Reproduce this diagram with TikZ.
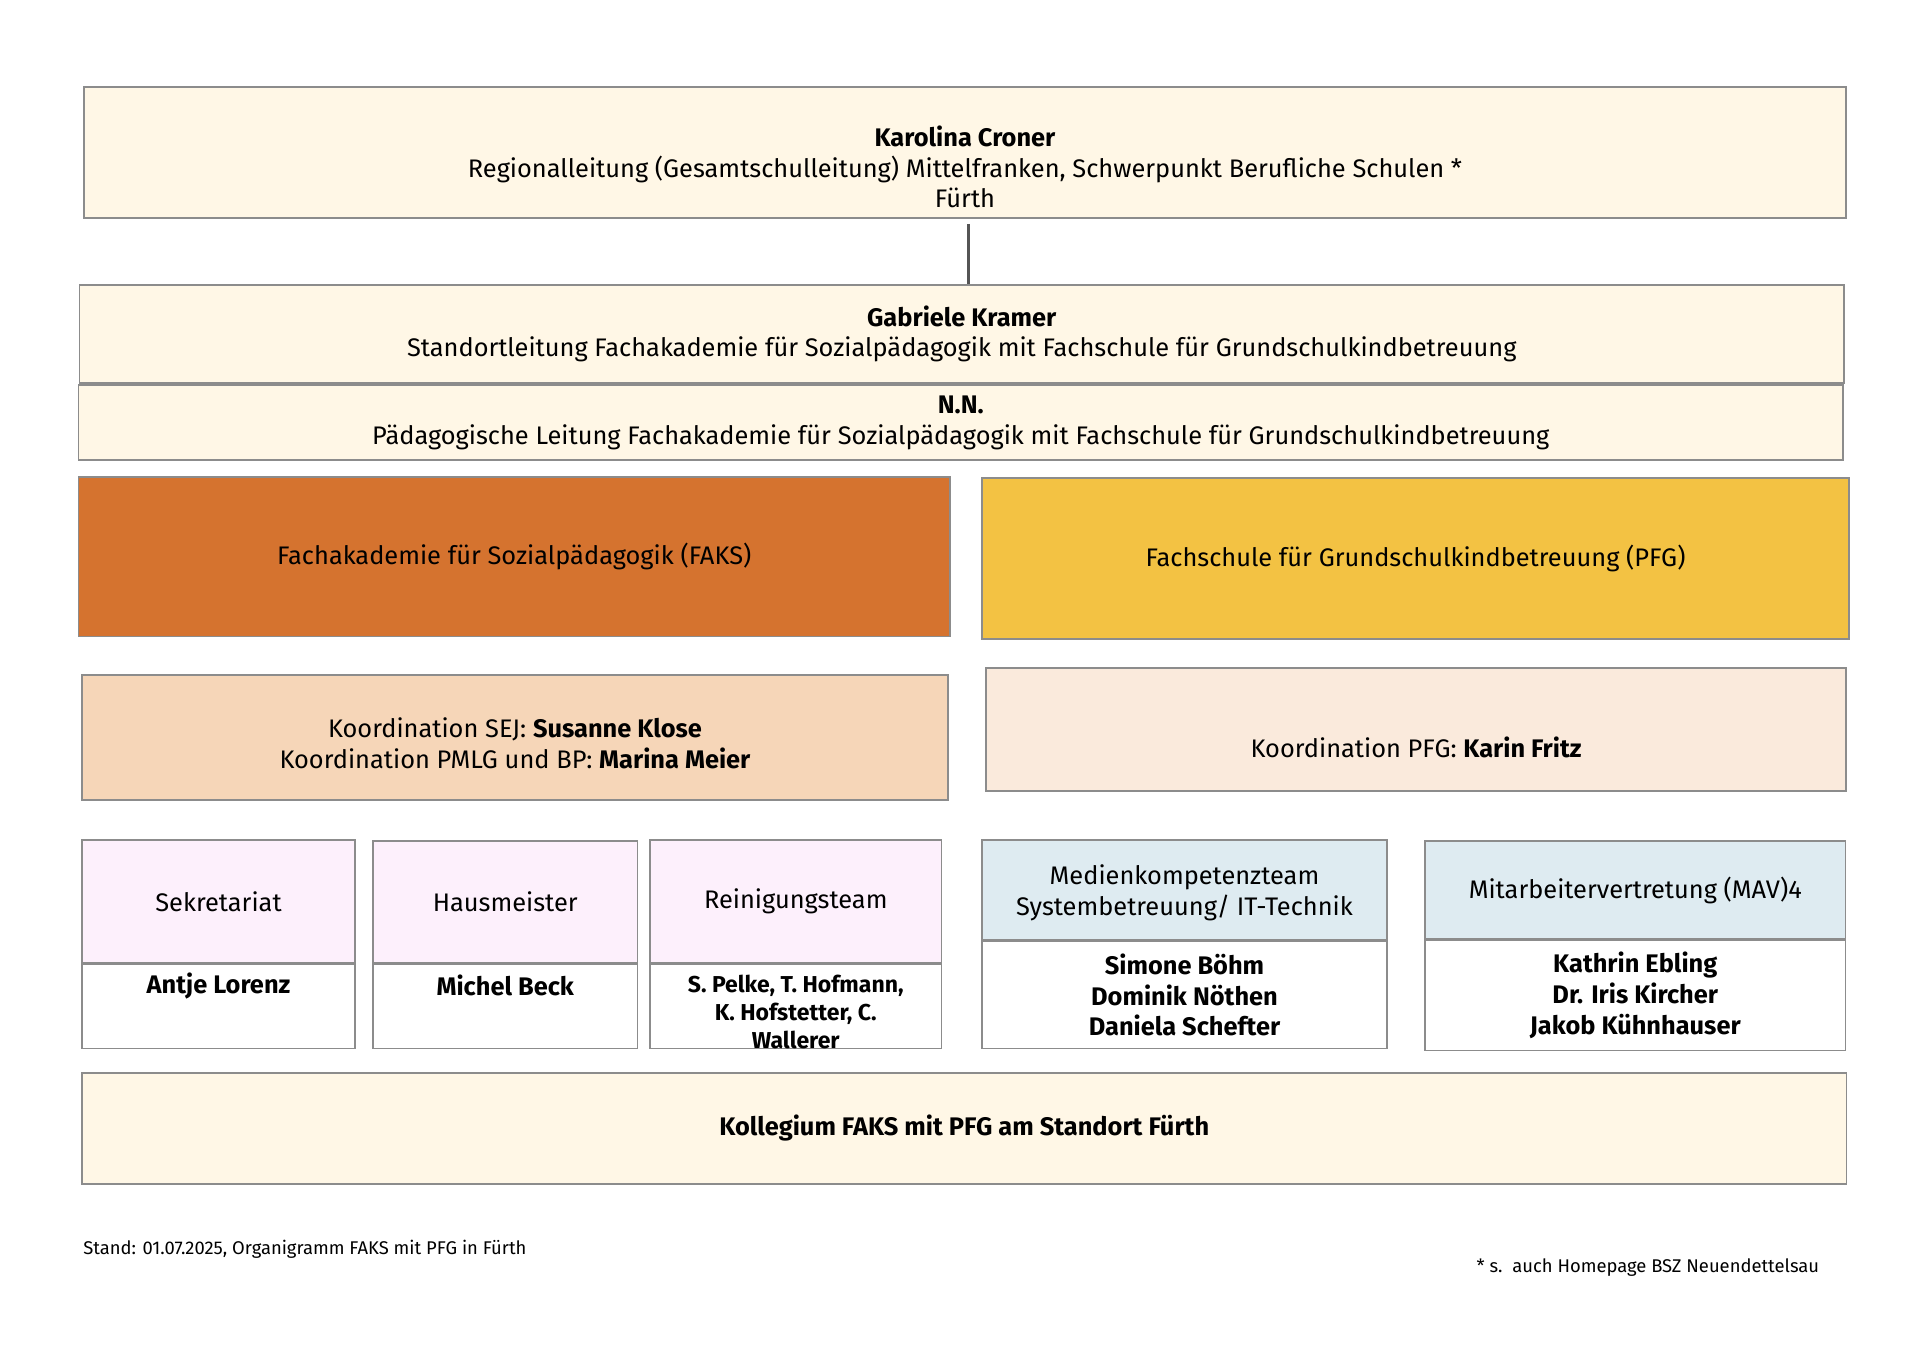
\documentclass[tikz,border=0pt]{standalone}
\usepackage{fontspec}
\setmainfont{Fira Sans}
\usetikzlibrary{positioning}
\definecolor{cream}{HTML}{FFF7E6}
\definecolor{faksorange}{HTML}{D5732F}
\definecolor{pfgyellow}{HTML}{F3C243}
\definecolor{sejpeach}{HTML}{F6D6B8}
\definecolor{pfgpeach}{HTML}{FAEADC}
\definecolor{staffpink}{HTML}{FDF0FC}
\definecolor{teamblue}{HTML}{DEEBF1}
\definecolor{boxgray}{HTML}{8C8C8C}
\definecolor{linkgray}{HTML}{555555}

\begin{document}
\begin{tikzpicture}[x=0.5pt,y=-0.5pt,
		org box/.style={draw=boxgray,line width=0.75pt,inner sep=0pt,align=center,font=\fontsize{12.7}{15.4}\selectfont},
		plain text/.style={inner sep=0pt,align=center,font=\fontsize{12.7}{15.4}\selectfont},
		name text/.style={inner sep=0pt,align=center,font=\fontsize{12.7}{15.4}\selectfont\bfseries},
		foot text/.style={inner sep=0pt,font=\fontsize{9.2}{11}\selectfont}]
	\useasboundingbox (0,0) rectangle (1920,1354);
	% leitung
	\node[org box,fill=cream,minimum width=881pt,minimum height=65.5pt] (croner) at (965,152.5) {};
	\node[plain text] (croner text) at (965,167) {\textbf{Karolina Croner}\\Regionalleitung (Gesamtschulleitung) Mittelfranken, Schwerpunkt Berufliche Schulen *\\Fürth};
	\node[org box,fill=cream,minimum width=882.25pt,minimum height=49pt] (kramer) at (961.75,334) {\textbf{Gabriele Kramer}\\Standortleitung Fachakademie für Sozialpädagogik mit Fachschule für Grundschulkindbetreuung};
	\node[org box,fill=cream,minimum width=882.25pt,minimum height=37.5pt] (nn) at (960.75,422.5) {\textbf{N.N.}\\Pädagogische Leitung Fachakademie für Sozialpädagogik mit Fachschule für Grundschulkindbetreuung};
	\draw[linkgray,line width=1.5pt] ([xshift=1.5pt,yshift=-2.5pt]croner.south) -- ([xshift=1.5pt]croner.south |- kramer.north);
	% schularten
	\node[org box,fill=faksorange,minimum width=435.75pt,minimum height=79.75pt] (faks) at (514.25,556.75) {Fachakademie für Sozialpädagogik (FAKS)};
	\node[org box,fill=pfgyellow,minimum width=433.5pt,minimum height=80.5pt] (pfg) at (1415.5,558.5) {Fachschule für Grundschulkindbetreuung (PFG)};
	% koordination
	\node[org box,fill=sejpeach,minimum width=433pt,minimum height=62.5pt] (koord sej) at (515,737.5) {};
	\node[plain text] (koord sej text) at (515,743) {Koordination SEJ: \textbf{Susanne Klose}\\Koordination PMLG und BP: \textbf{Marina Meier}};
	\node[org box,fill=pfgpeach,minimum width=430pt,minimum height=61.5pt] (koord pfg) at (1416,729.5) {};
	\node[plain text] (koord pfg text) at (1416,747) {Koordination PFG: \textbf{Karin Fritz}};
	% verwaltung und teams
	\node[org box,fill=staffpink,minimum width=136.5pt,minimum height=61.5pt] (sekr) at (218.5,901.5) {Sekretariat};
	\node[org box,fill=white,minimum width=136.5pt,minimum height=42pt,below=0pt of sekr] (sekr names) {};
	\node[name text] (lorenz) at (218.5,986) {Antje Lorenz};
	\node[org box,fill=staffpink,minimum width=132.25pt,minimum height=61pt] (haus) at (505.25,902) {Hausmeister};
	\node[org box,fill=white,minimum width=132.25pt,minimum height=42pt,below=0pt of haus] (haus names) {};
	\node[name text] (beck) at (505.25,985) {Michel Beck};
	\node[org box,fill=staffpink,minimum width=145.75pt,minimum height=61.5pt] (rein) at (795.75,901.5) {Reinigungsteam};
	\node[org box,fill=white,minimum width=145.75pt,minimum height=42pt,below=0pt of rein] (rein names) {};
	\node[name text,font=\fontsize{11.5}{13.9}\selectfont\bfseries] (pelke) at (795.75,1012) {S. Pelke, T. Hofmann,\\K. Hofstetter, C.\\Wallerer};
	\node[org box,fill=teamblue,minimum width=202.5pt,minimum height=50pt] (medien) at (1184.5,890) {};
	\node[plain text] (medien text) at (1184.5,893) {Medienkompetenzteam\\Systembetreuung/ IT-Technik};
	\node[org box,fill=white,minimum width=202.5pt,minimum height=53.5pt,below=0pt of medien] (medien names) {\bfseries Simone Böhm\\\bfseries Dominik Nöthen\\\bfseries Daniela Schefter};
	\node[org box,fill=teamblue,minimum width=210.25pt,minimum height=49pt] (mav) at (1635.25,890) {Mitarbeitervertretung (MAV)4};
	\node[org box,fill=white,minimum width=210.25pt,minimum height=55pt,below=0pt of mav] (mav names) {\bfseries Kathrin Ebling\\\bfseries Dr. Iris Kircher\\\bfseries Jakob Kühnhauser};
	% kollegium
	\node[org box,fill=cream,minimum width=882.25pt,minimum height=55.5pt] (kollegium) at (964.25,1128.5) {\textbf{Kollegium FAKS mit PFG am Standort Fürth}};
	\node[foot text,anchor=west] (stand) at (83,1249.5) {Stand: 01.07.2025, Organigramm FAKS mit PFG in Fürth};
	\node[foot text,anchor=east] (hinweis) at (1819.5,1267.5) {* s.\ \ auch Homepage BSZ Neuendettelsau};
\end{tikzpicture}
\end{document}
